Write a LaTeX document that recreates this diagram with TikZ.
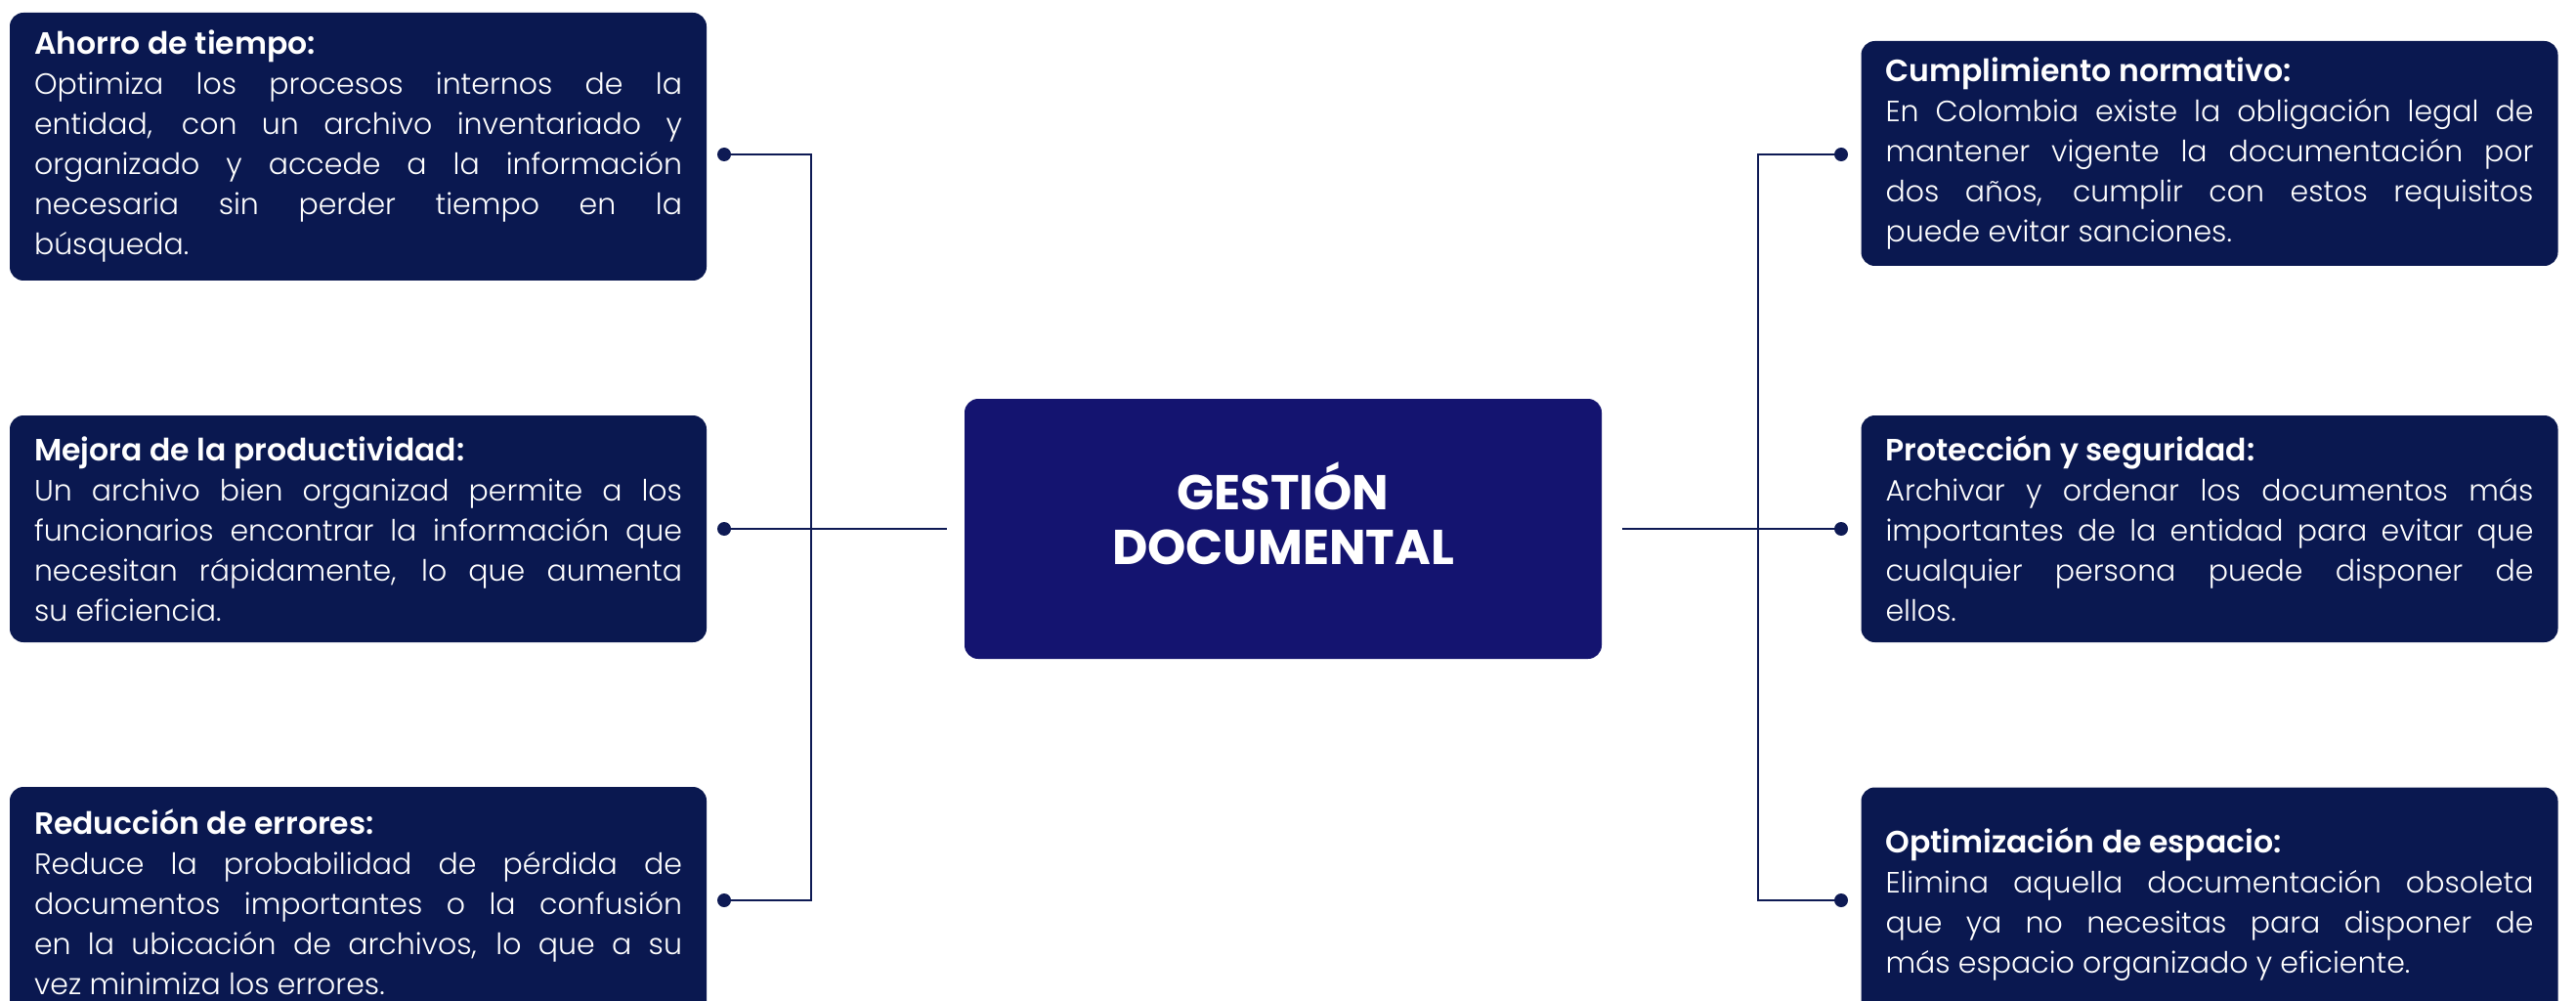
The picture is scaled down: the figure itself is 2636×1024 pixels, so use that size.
\documentclass[tikz,border=0pt]{standalone}
\usepackage{fontspec}
\setmainfont{Poppins}[UprightFont=* Light, BoldFont=* SemiBold]
\newfontfamily\headfont{Poppins}[UprightFont=* Bold]
\usetikzlibrary{positioning}

\definecolor{cardblue}{RGB}{10,24,80}
\definecolor{coreblue}{RGB}{20,20,112}
\definecolor{linkblue}{RGB}{14,26,84}

\tikzset{every picture/.style={line width=2pt}}
\hyphenpenalty=10000
\exhyphenpenalty=10000
\newcommand{\cardtitle}[1]{\textbf{\fontsize{31.5}{41}\selectfont #1}}

\begin{document}
\begin{tikzpicture}[x=1pt,y=1pt,yscale=-1,xscale=1,
  card/.style={fill=cardblue, rounded corners=14pt, text=white, text width=663pt,
    inner xsep=25pt, inner ysep=0pt, align=justify,
    font=\fontsize{30}{41}\selectfont},
  core/.style={fill=coreblue, rounded corners=14pt, text=white, align=center,
    minimum width=652pt, minimum height=266pt,
    font=\headfont\fontsize{50}{56}\selectfont},
  dot/.style={circle, fill=linkblue, inner sep=0pt, minimum size=14pt},
  link/.style={draw=linkblue, line width=2pt}]
%uncomment if require:
\useasboundingbox (0,0) rectangle (2636,1024);
%set diagram left start at 0, and has height of 1024

% Center Node
\node[core] (gestion) at (1313,541) {\raisebox{1pt}[0pt][0pt]{\begin{tabular}{@{}c@{}}GESTIÓN\\DOCUMENTAL\end{tabular}}};

% Left Cards
\node[card, minimum height=274pt] (ahorro) at (366.5,150) {\cardtitle{Ahorro de tiempo:}\\
Optimiza los procesos internos de la\linebreak
entidad, con un archivo inventariado y\linebreak
organizado y accede a la información\linebreak
necesaria sin perder tiempo en la\linebreak
búsqueda.};
\node[card, minimum height=232pt] (mejora) at (366.5,541) {\cardtitle{Mejora de la productividad:}\\
Un archivo bien organizad permite a los\linebreak
funcionarios encontrar la información que\linebreak
necesitan rápidamente, lo que aumenta\linebreak
su eficiencia.};
\node[card, minimum height=236pt] (errores) at (366.5,923) {\cardtitle{Reducción de errores:}\\
Reduce la probabilidad de pérdida de\linebreak
documentos importantes o la confusión\linebreak
en la ubicación de archivos, lo que a su\linebreak
vez minimiza los errores.};

% Right Cards
\node[card, minimum height=230pt] (norma) at (2261,157) {\cardtitle{Cumplimiento normativo:}\\
En Colombia existe la obligación legal de\linebreak
mantener vigente la documentación por\linebreak
dos años, cumplir con estos requisitos\linebreak
puede evitar sanciones.};
\node[card, minimum height=232pt] (seguridad) at (2261,541) {\cardtitle{Protección y seguridad:}\\
Archivar y ordenar los documentos más\linebreak
importantes de la entidad para evitar que\linebreak
cualquier persona puede disponer de\linebreak
ellos.};
\node[card, minimum height=239pt] (espacio) at (2261,925) {\cardtitle{Optimización de espacio:}\\
Elimina aquella documentación obsoleta\linebreak
que ya no necesitas para disponer de\linebreak
más espacio organizado y eficiente.};

% Dots
\node[dot] (dA) at (741,158) {};
\node[dot] (dB) at (741,541) {};
\node[dot] (dC) at (741,921) {};
\node[dot] (dD) at (1884,158) {};
\node[dot] (dE) at (1884,541) {};
\node[dot] (dF) at (1884,921) {};
\coordinate (spineL) at (830,541);
\coordinate (spineR) at (1799,541);

% Connectors
\draw[link] (dA.center) -- (dA -| spineL) -- (dC -| spineL) -- (dC.center);
\draw[link, shorten >=17pt] (dB.center) -- (gestion.west);
\draw[link] (dD.center) -- (dD -| spineR) -- (dF -| spineR) -- (dF.center);
\draw[link, shorten <=20pt] (gestion.east) -- (dE.center);

\end{tikzpicture}
\end{document}
